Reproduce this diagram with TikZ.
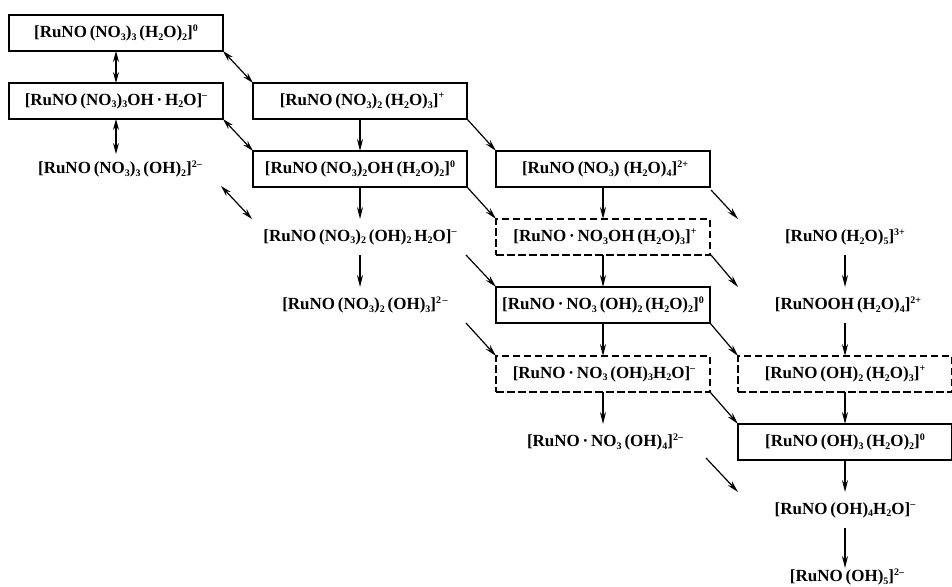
\documentclass[tikz,border=0pt]{standalone}
\usepackage{fontspec}
\setmainfont{Liberation Serif}
\usetikzlibrary{arrows.meta}
\newcommand{\sbs}[1]{\raisebox{-2.8pt}{\fontsize{10}{10}\selectfont #1}}
\newcommand{\sps}[1]{\raisebox{6.5pt}{\fontsize{10}{10}\selectfont #1}}
\tikzset{
  x=1pt,y=-1pt,
  every node/.style={inner sep=0pt,outer sep=0pt,font=\fontsize{17}{18}\selectfont\bfseries},
  spec/.style={minimum width=214pt,minimum height=36pt,align=center},
  solidbox/.style={spec,draw=black,line width=1.7pt},
  dashbox/.style={spec,draw=black,line width=1.7pt,dash pattern=on 7.5pt off 3.5pt},
  plain/.style={spec},
  one/.style={line width=1.2pt,-{Stealth[length=12pt,width=6pt]}},
  two/.style={line width=1.2pt,{Stealth[length=11pt,width=6pt]}-{Stealth[length=11pt,width=6pt]}},
}
\begin{document}
\begin{tikzpicture}
\useasboundingbox (0,0) rectangle (952,586);
\node[solidbox] (b1) at (116,33) {[RuNO\,(NO\sbs{3})\sbs{3}\,(H\sbs{2}O)\sbs{2}]\sps{0}};
\node[solidbox] (b2) at (116,101) {[RuNO\,(NO\sbs{3})\sbs{3}OH\,·\,H\sbs{2}O]\sps{–}};
\node[plain] (t3) at (116,169) {\hspace{8pt}[RuNO\,(NO\sbs{3})\sbs{3}\,(OH)\sbs{2}]\sps{2–}};
\node[solidbox] (b4) at (360,101) {\hspace{4pt}[RuNO\,(NO\sbs{3})\sbs{2}\,(H\sbs{2}O)\sbs{3}]\sps{+}};
\node[solidbox] (b5) at (360,169) {[RuNO\,(NO\sbs{3})\sbs{2}OH\,(H\sbs{2}O)\sbs{2}]\sps{0}};
\node[plain] (t6) at (360,237) {[RuNO\,(NO\sbs{3})\sbs{2}\,(OH)\sbs{2}\,H\sbs{2}O]\sps{–}};
\node[plain] (t7) at (360,305) {\hspace{10pt}[RuNO\,(NO\sbs{3})\sbs{2}\,(OH)\sbs{3}]\sps{2\,–}};
\node[solidbox] (b8) at (603,169) {\hspace{4pt}[RuNO\,(NO\sbs{3})\ (H\sbs{2}O)\sbs{4}]\sps{2+}};
\node[dashbox] (b9) at (603,237) {\hspace{4pt}[RuNO\,·\,NO\sbs{3}OH\,(H\sbs{2}O)\sbs{3}]\sps{+}};
\node[solidbox] (b10) at (603,305) {[RuNO\,·\,NO\sbs{3}\,(OH)\sbs{2}\,(H\sbs{2}O)\sbs{2}]\sps{0}};
\node[dashbox] (b11) at (603,374) {\hspace{2pt}[RuNO\,·\,NO\sbs{3}\,(OH)\sbs{3}H\sbs{2}O]\sps{–}};
\node[plain] (t12) at (603,442) {\hspace{4pt}[RuNO\,·\,NO\sbs{3}\,(OH)\sbs{4}]\sps{2–}};
\node[plain] (t13) at (845,237) {[RuNO\,(H\sbs{2}O)\sbs{5}]\sps{3+}};
\node[plain] (t14) at (845,305) {\hspace{6pt}[RuNOOH\,(H\sbs{2}O)\sbs{4}]\sps{2+}};
\node[dashbox] (b15) at (845,374) {[RuNO\,(OH)\sbs{2}\,(H\sbs{2}O)\sbs{3}]\sps{+}};
\node[solidbox] (b16) at (845,442) {[RuNO\,(OH)\sbs{3}\,(H\sbs{2}O)\sbs{2}]\sps{0}};
\node[plain] (t17) at (845,510) {[RuNO\,(OH)\sbs{4}H\sbs{2}O]\sps{–}};
\node[plain,minimum height=18pt] (t18) at (845,577) {\hspace{4pt}[RuNO\,(OH)\sbs{5}]\sps{2–}};

\coordinate (f1a) at (221,186); \coordinate (f1b) at (252,219);
\coordinate (f2a) at (466,255); \coordinate (f3a) at (466,323);
\coordinate (f4a) at (711,190); \coordinate (f4b) at (738,219);
\coordinate (f5a) at (711,255); \coordinate (f5b) at (738,287);
\coordinate (f6a) at (706,458); \coordinate (f6b) at (738,492);

\draw[two] (b1.south) -- (b2.north);
\draw[two] (b2.south) -- ([yshift=-3pt]t3.north);
\draw[two] (b1.south east) -- (b4.north west);
\draw[two] (b2.south east) -- (b5.north west);
\draw[two] (f1a) -- (f1b);
\draw[one] (b4.south) -- (b5.north);
\draw[one] (b5.south) -- (t6.north);
\draw[one] (t6.south) -- (t7.north);
\draw[one] (b4.south east) -- (b8.north west);
\draw[one] (b5.south east) -- (b9.north west);
\draw[one] (f2a) -- (b10.north west);
\draw[one] (f3a) -- (b11.north west);
\draw[one] (b8.south) -- (b9.north);
\draw[one] (b9.south) -- (b10.north);
\draw[one] (b10.south) -- (b11.north);
\draw[one] (b11.south) -- (t12.north);
\draw[one] (f4a) -- (f4b);
\draw[one] (f5a) -- (f5b);
\draw[one] (b10.south east) -- (b15.north west);
\draw[one] (b11.south east) -- (b16.north west);
\draw[one] (f6a) -- (f6b);
\draw[one] (t13.south) -- (t14.north);
\draw[one] (t14.south) -- (b15.north);
\draw[one] (b15.south) -- (b16.north);
\draw[one] (b16.south) -- (t17.north);
\draw[one] (t17.south) -- (t18.north);
\end{tikzpicture}
\end{document}
